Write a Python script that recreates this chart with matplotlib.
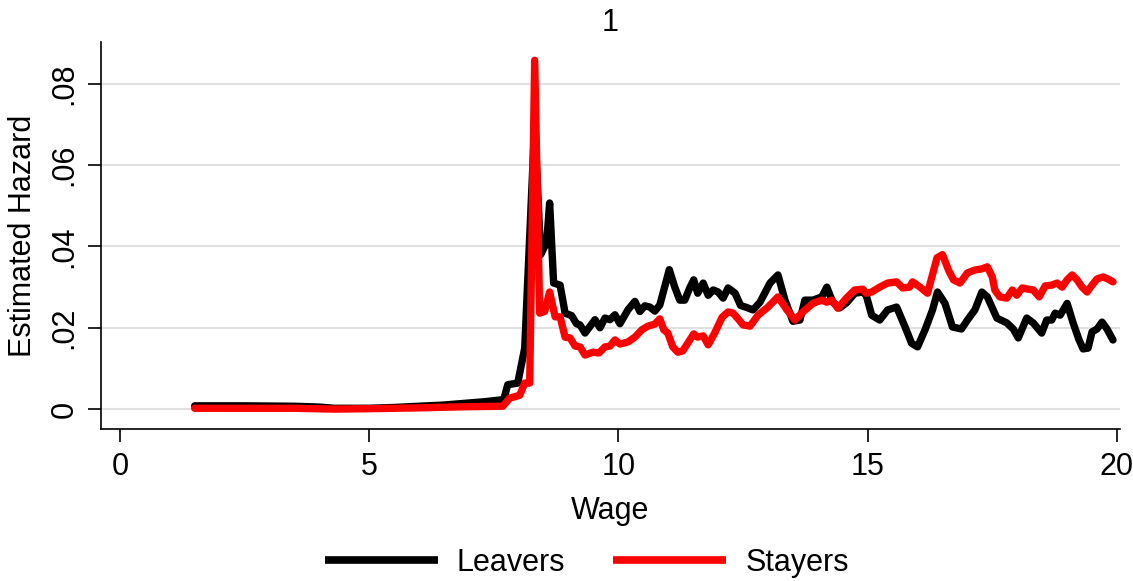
import matplotlib
matplotlib.use("Agg")
import matplotlib.pyplot as plt

plt.rcParams['font.family'] = ['Liberation Sans', 'DejaVu Sans']

# ---- data ----
wage_leavers = [1.5, 2.5, 3.5, 4.0, 4.3, 5.0, 5.5, 6.0, 6.5, 7.0, 7.3, 7.6, 7.7, 7.78, 7.98, 8.12,
                8.32, 8.44, 8.56, 8.62, 8.7, 8.83, 8.93, 9.06, 9.16, 9.23, 9.33, 9.53, 9.63, 9.73,
                9.83, 9.93, 10.03, 10.19, 10.33, 10.43, 10.53, 10.63, 10.73, 10.83, 11.02, 11.13,
                11.23, 11.33, 11.43, 11.51, 11.59, 11.7, 11.8, 11.9, 12.0, 12.1, 12.2, 12.34, 12.45,
                12.57, 12.7, 12.84, 13.04, 13.2, 13.34, 13.5, 13.64, 13.74, 13.9, 14.08, 14.18,
                14.3, 14.44, 14.58, 14.74, 14.9, 14.97, 15.08, 15.24, 15.4, 15.58, 15.75, 15.88,
                16.0, 16.15, 16.3, 16.4, 16.55, 16.7, 16.88, 17.0, 17.15, 17.29, 17.4, 17.59,
                17.79, 17.92, 18.02, 18.19, 18.32, 18.49, 18.59, 18.69, 18.76, 18.86, 19.0, 19.12,
                19.24, 19.32, 19.42, 19.5, 19.6, 19.7, 19.8, 19.92]
leavers = [0.0008, 0.0008, 0.0007, 0.0005, 0.0002, 0.0002, 0.0004, 0.0007, 0.0010, 0.0015, 0.0018,
           0.0022, 0.0024, 0.0060, 0.0064, 0.0150,
           0.0700, 0.0380, 0.0410, 0.0507, 0.0310, 0.0305, 0.0236, 0.0230, 0.0210, 0.0207, 0.0187,
           0.0220, 0.0200, 0.0224, 0.0220, 0.0232, 0.0210, 0.0244, 0.0265, 0.0240, 0.0254, 0.0251,
           0.0241, 0.0256, 0.0343, 0.0300, 0.0268, 0.0268, 0.0298, 0.0318, 0.0285, 0.0310, 0.0280,
           0.0293, 0.0288, 0.0273, 0.0298, 0.0285, 0.0255,
           0.0250, 0.0244, 0.0263, 0.0310, 0.0330, 0.0268, 0.0216, 0.0219, 0.0268, 0.0268, 0.0276,
           0.0300, 0.0263, 0.0249, 0.0262, 0.0285, 0.0288, 0.0280, 0.0231, 0.0219, 0.0244, 0.0251,
           0.0202, 0.0162, 0.0153, 0.0195, 0.0244, 0.0288, 0.0260, 0.0202, 0.0197, 0.0219, 0.0244,
           0.0288, 0.0276, 0.0224, 0.0212, 0.0197, 0.0175, 0.0224, 0.0212, 0.0187, 0.0219, 0.0219,
           0.0236, 0.0231, 0.0260, 0.0212, 0.0170, 0.0148, 0.0150, 0.0190, 0.0197, 0.0214, 0.0197,
           0.0170]

wage_stayers = [1.5, 2.5, 3.5, 4.3, 5.0, 6.0, 7.0, 7.68, 7.82, 8.02, 8.12, 8.22, 8.32, 8.42, 8.52,
                8.62, 8.73, 8.83, 8.93, 9.03, 9.13, 9.23, 9.33, 9.49, 9.61, 9.73, 9.83, 9.93, 10.03,
                10.19, 10.33, 10.47, 10.59, 10.73, 10.83, 10.91, 10.99, 11.09, 11.19, 11.29, 11.39,
                11.51, 11.59, 11.7, 11.8, 11.93, 12.08, 12.2, 12.3, 12.4, 12.5, 12.64, 12.8, 13.0,
                13.2, 13.38, 13.54, 13.7, 13.9, 14.08, 14.18, 14.28, 14.4, 14.58, 14.74, 14.9, 14.97,
                15.08, 15.24, 15.4, 15.58, 15.7, 15.84, 15.9, 16.05, 16.2, 16.39, 16.5, 16.62, 16.72,
                16.85, 17.0, 17.15, 17.29, 17.4, 17.5, 17.55, 17.65, 17.79, 17.9, 17.99, 18.1, 18.22,
                18.32, 18.44, 18.56, 18.69, 18.8, 18.9, 19.0, 19.1, 19.2, 19.3, 19.4, 19.5, 19.6,
                19.72, 19.82, 19.92]
stayers = [0.0002, 0.0002, 0.0002, 0.0000, 0.0001, 0.0003, 0.0006, 0.0007, 0.0027, 0.0034, 0.0064,
           0.0064, 0.0858, 0.0236, 0.0240, 0.0288, 0.0227, 0.0227, 0.0177, 0.0175, 0.0155, 0.0153,
           0.0133, 0.0140, 0.0138, 0.0153, 0.0155, 0.0170, 0.0160, 0.0165, 0.0177, 0.0195, 0.0204,
           0.0209, 0.0222, 0.0195, 0.0187, 0.0153, 0.0140, 0.0143, 0.0162, 0.0185, 0.0177, 0.0180,
           0.0158, 0.0187, 0.0226, 0.0239, 0.0236, 0.0222, 0.0207, 0.0204, 0.0231, 0.0251, 0.0276,
           0.0244, 0.0219, 0.0239, 0.0260, 0.0268, 0.0263, 0.0268, 0.0248, 0.0274, 0.0293, 0.0295,
           0.0285, 0.0288, 0.0300, 0.0310, 0.0313, 0.0298, 0.0300, 0.0313, 0.0300, 0.0285, 0.0372,
           0.0380, 0.0342, 0.0318, 0.0310, 0.0335, 0.0342, 0.0345, 0.0350, 0.0325, 0.0293, 0.0276,
           0.0273, 0.0293, 0.0280, 0.0298, 0.0295, 0.0293, 0.0276, 0.0303, 0.0305, 0.0310, 0.0300,
           0.0318, 0.0330, 0.0318, 0.0300, 0.0288, 0.0305, 0.0320, 0.0325, 0.0320, 0.0313]

series_labels = ["Leavers", "Stayers"]
x_ticks = [0, 5, 10, 15, 20]
y_ticks = [0, 0.02, 0.04, 0.06, 0.08]
y_tick_labels = ["0", ".02", ".04", ".06", ".08"]
title = "1"

FS = 22

# ---- figure ----
fig = plt.figure(figsize=(11.33, 5.81), dpi=100)
ax = fig.add_axes([0.0891, 0.2616, 0.8994, 0.6661])

ax.plot(wage_leavers, leavers, color="black", lw=5.3, label=series_labels[0],
        solid_joinstyle="round", solid_capstyle="round")
ax.plot(wage_stayers, stayers, color="#ff0000", lw=5.3, label=series_labels[1],
        solid_joinstyle="round", solid_capstyle="round")

ax.set_xlim(-0.38, 20.06)
ax.set_ylim(-0.0049, 0.0903)
ax.set_xticks(x_ticks)
ax.set_yticks(y_ticks)
ax.set_yticklabels(y_tick_labels, rotation=90, va="center")
ax.tick_params(axis="both", labelsize=FS, length=9.4, width=1.2, color="black")
ax.tick_params(axis="x", pad=7)
ax.tick_params(axis="y", pad=6)

ax.grid(axis="y", color="#e1e1e1", lw=1.5)
ax.set_axisbelow(True)
for s in ["top", "right"]:
    ax.spines[s].set_visible(False)
for s in ["left", "bottom"]:
    ax.spines[s].set_linewidth(1.2)

ax.set_xlabel("Wage", fontsize=FS, labelpad=10)
ax.set_ylabel("Estimated Hazard", fontsize=FS, labelpad=8)
ax.set_title(title, fontsize=FS, pad=8)

handles, labels = ax.get_legend_handles_labels()
leg = fig.legend(handles, labels, loc="center", bbox_to_anchor=(0.518, 0.031), ncol=2,
                 frameon=False, fontsize=FS, handlelength=3.7, columnspacing=1.57,
                 handletextpad=0.62, borderaxespad=0, borderpad=0)
for h in leg.get_lines():
    h.set_linewidth(5.5)
    h.set_solid_capstyle("butt")

fig.savefig("out.png", dpi=100)
